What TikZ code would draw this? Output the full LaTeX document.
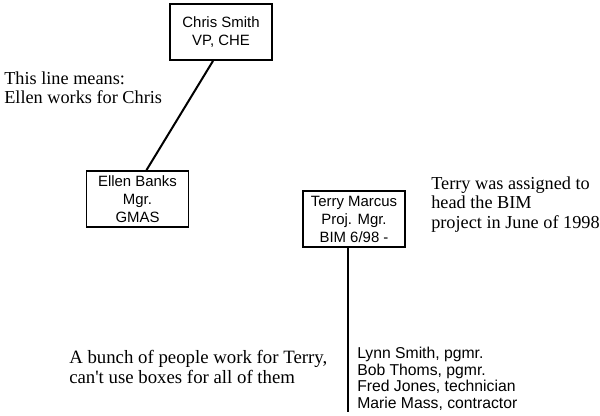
\documentclass[tikz,border=0pt]{standalone}
\usepackage{fontspec}
\setmainfont{Liberation Serif}
\setsansfont{Liberation Sans}
\usetikzlibrary{calc}
\tikzset{
  pbox/.style={draw,line width=1.4pt,minimum width=76.5pt,minimum height=42pt,
               font=\sffamily\fontsize{11.2}{13.5}\selectfont,align=center,inner sep=2pt},
  note/.style={font=\fontsize{13.7}{14.5}\selectfont,align=left,inner sep=0pt,
               anchor=north west},
  staff/.style={font=\sffamily\fontsize{11.8}{12.4}\selectfont,align=left,inner sep=0pt,
                anchor=north west},
  ln/.style={line width=1.5pt},
}

\begin{document}
\begin{tikzpicture}[x=0.75pt,y=-0.75pt]
  \useasboundingbox (0,0) rectangle (600,416);
  % boxes
  \node[pbox] (chris) at (221,32)    {Chris Smith\\VP, CHE};
  \node[pbox] (ellen) at (137.5,199) {Ellen Banks\\Mgr.\\GMAS};
  \node[pbox] (terry) at (354,219)   {Terry Marcus\\Proj. Mgr.\\BIM 6/98 -};
  \coordinate (tail) at (348,412);
  % lines
  \draw[ln] ($(chris.south)+(-8,0)$) -- ($(ellen.north)+(9,0)$);
  \draw[ln] (terry.south -| tail) -- (tail);
  % notes
  \node[note] (means) at (4,71.5) {This line means:\\Ellen works for Chris};
  \node[note] (assign) at (431,176.5) {Terry was assigned to\\head the BIM\\project in June of 1998};
  \node[note,font=\fontsize{14.1}{15}\selectfont] (bunch) at (69,350)
    {A bunch of people work for Terry,\\can\textquotesingle t use boxes for all of them};
  \node[staff] (list) at (357,347) {Lynn Smith, pgmr.\\Bob Thoms, pgmr.\\Fred Jones, technician\\Marie Mass, contractor};
\end{tikzpicture}
\end{document}
